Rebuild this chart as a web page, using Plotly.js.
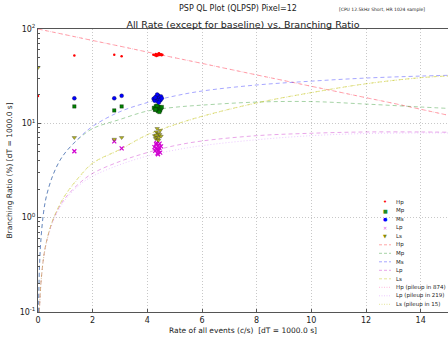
<!DOCTYPE html>
<html><head><meta charset="utf-8">
<script src="https://cdn.plot.ly/plotly-3.0.1.min.js"></script>
<style>html,body{margin:0;padding:0;background:#fff}#c{width:448px;height:338px}</style>
</head><body><div id="c"></div>
<script>
// ---- measured points ----
const hpX = [0, 1.33, 2.79, 3.06, 4.22, 4.28, 4.31, 4.35, 4.38, 4.40, 4.42, 4.45, 4.47, 4.50, 4.52, 4.55, 4.33, 4.43];
const hpY = [19.5, 52.5, 53.4, 51.5, 53.5, 52.8, 54.2, 53.1, 52.4, 54.6, 53.7, 52.9, 53.3, 54.1, 52.6, 53.4, 51.8, 55.2];
const mpX = [1.33, 2.79, 3.06, 4.24, 4.28, 4.31, 4.35, 4.38, 4.40, 4.42, 4.45, 4.47, 4.50, 4.53, 4.36, 4.44, 4.30];
const mpY = [15.1, 13.7, 15.1, 14.6, 13.9, 15.2, 14.3, 13.5, 15.0, 14.1, 14.8, 13.7, 14.4, 14.9, 15.4, 13.2, 14.0];
const msX = [1.33, 2.79, 3.06, 4.23, 4.27, 4.31, 4.34, 4.38, 4.40, 4.43, 4.45, 4.48, 4.50, 4.53, 4.36, 4.42, 4.29];
const msY = [18.4, 18.4, 19.6, 18.2, 17.4, 19.0, 18.6, 17.1, 19.7, 18.0, 18.9, 17.6, 19.3, 18.4, 20.2, 16.6, 18.8];
const lpX = [1.33, 2.79, 3.06, 4.26, 4.29, 4.32, 4.35, 4.37, 4.40, 4.42, 4.44, 4.47, 4.50, 4.34, 4.39, 4.45, 4.31];
const lpY = [5.06, 6.45, 5.43, 5.6, 5.1, 6.0, 5.3, 4.8, 5.8, 5.2, 5.5, 4.9, 5.7, 6.2, 4.7, 6.1, 5.4];
const lsX = [0, 1.33, 2.79, 3.06, 4.27, 4.30, 4.33, 4.35, 4.38, 4.40, 4.42, 4.45, 4.47, 4.50, 4.36, 4.41, 4.32];
const lsY = [39, 7.06, 6.78, 7.06, 7.4, 6.9, 8.1, 7.2, 6.7, 7.8, 7.1, 7.6, 8.4, 7.3, 8.8, 6.6, 7.5];

// ---- model curves ----
const hpCurveX = [0, 1, 2, 3, 4, 5, 6, 7, 8, 9, 10, 11, 12, 13, 14, 15];
const hpCurveY = [100, 87, 75.5, 65.7, 57, 49.6, 43.2, 37.5, 32.6, 28.4, 24.7, 21.5, 18.7, 16.3, 14.1, 12.2];
const msCurveX = [0.02, 0.05, 0.1, 0.2, 0.3, 0.5, 0.75, 1, 1.5, 2, 3, 4, 5, 6, 8, 10, 12, 14, 15];
const msCurveY = [0.1, 0.28, 0.55, 1.12, 1.65, 2.6, 3.8, 4.9, 7.0, 9.3, 13.3, 16.6, 19.5, 22, 25.5, 28, 30.2, 31.7, 32.3];
const mpCurveY = [0.1, 0.28, 0.55, 1.12, 1.65, 2.6, 3.8, 4.9, 6.9, 8.8, 11.0, 13.5, 14.8, 15.6, 16.8, 17.0, 16.0, 14.9, 14.4];
const lCurveX = [0.05, 0.1, 0.2, 0.3, 0.5, 0.75, 1, 1.5, 2, 3, 4, 5, 6, 8, 10, 12, 14, 15];
const lsCurveY = [0.1, 0.19, 0.37, 0.54, 0.88, 1.3, 1.75, 2.7, 3.8, 5.3, 7.6, 9.7, 11.9, 16.5, 21.2, 26.3, 30.5, 31.8];
const lpCurveY = [0.1, 0.19, 0.37, 0.54, 0.86, 1.25, 1.62, 2.3, 2.95, 3.95, 4.9, 5.8, 6.5, 7.4, 7.85, 8.1, 8.1, 8.05];
const lpPileY = [0.1, 0.19, 0.36, 0.52, 0.83, 1.2, 1.55, 2.2, 2.75, 3.65, 4.5, 5.2, 5.8, 6.7, 7.4, 7.8, 7.9, 7.9];
const lsPileY = [0.1, 0.19, 0.37, 0.54, 0.87, 1.28, 1.72, 2.65, 3.75, 5.25, 7.5, 9.6, 11.8, 16.4, 21.1, 26.2, 30.4, 31.7];

const legendLabels = ['Hp', 'Mp', 'Ms', 'Lp', 'Ls', 'Hp', 'Mp', 'Ms', 'Lp', 'Ls',
  'Hp (pileup in 874)', 'Lp (pileup in 219)', 'Ls (pileup in 15)'];

const F = 'DejaVu Sans, sans-serif';
function pts(x, y, sym, col, size, edgeW) {
  return {x, y, type: 'scatter', mode: 'markers', showlegend: false, cliponaxis: true,
    marker: {symbol: sym, color: col, size: size, line: {color: '#111', width: edgeW}}};
}
function crv(x, y, col, dash, w) {
  return {x, y, type: 'scatter', mode: 'lines', showlegend: false,
    line: {color: col, dash: dash, width: w || 1, shape: 'spline'}};
}
const cHp = 'rgba(255,0,0,0.35)', cMp = 'rgba(0,128,0,0.35)', cMs = 'rgba(0,0,255,0.35)',
      cLp = 'rgba(191,0,191,0.35)', cLs = 'rgba(191,191,0,0.4)',
      cHpP = 'rgba(255,105,180,0.45)', cLpP = 'rgba(200,100,255,0.35)', cLsP = 'rgba(191,191,0,0.4)';

const traces = [
  crv(hpCurveX, hpCurveY, cHp, '4px,3px'),
  crv(hpCurveX, hpCurveY, cHpP, '1px,3px'),
  crv(msCurveX, mpCurveY, cMp, '4px,3px'),
  crv(msCurveX, msCurveY, cMs, '4px,3px'),
  crv(lCurveX, lpCurveY, cLp, '4px,3px'),
  crv(lCurveX, lsCurveY, cLs, '4px,3px'),
  crv(lCurveX, lpPileY, cLpP, '1px,2px'),
  crv(lCurveX, lsPileY, cLsP, '1px,2px'),
  pts(hpX, hpY, 'circle', '#ff0000', 2.5, 0),
  pts(mpX, mpY, 'square', '#008000', 3.5, 0.3),
  pts(msX, msY, 'circle', '#0000ff', 4, 0.3),
  pts(lpX, lpY, 'x-thin', '#d000d0', 4, 1.2),
  pts(lsX, lsY, 'triangle-down', '#b5b520', 4, 0.3)
];
traces[11].marker.line.color = '#d000d0';

// plot box in pixels
const L = 38, R = 448, T = 29, B = 312;
const px = v => (v - L) / (R - L), py = v => (B - v) / (B - T);

const shapes = [], annotations = [];
const legY0 = 202.3, legStep = 8.5;
const mSym = ['•', '■', '●', '✕', '▼'];
const mCol = ['#ff0000', '#228b22', '#0000ff', '#e060e0', '#8a8a00'];
const lCol = [cHp, cMp, cMs, cLp, cLs, cHpP, cLpP, cLsP];
const lDash = ['3px,2px', '3px,2px', '3px,2px', '3px,2px', '3px,2px', '1px,1.5px', '1px,1.5px', '1px,1.5px'];
legendLabels.forEach((lab, i) => {
  const yy = legY0 + i * legStep;
  if (i < 5) {
    annotations.push({xref: 'paper', yref: 'paper', x: px(385), y: py(yy), text: mSym[i],
      showarrow: false, xanchor: 'center', yanchor: 'middle', font: {family: F, size: i === 0 ? 7 : 5, color: mCol[i]}});
  } else {
    shapes.push({type: 'line', xref: 'paper', yref: 'paper', x0: px(379), x1: px(391), y0: py(yy), y1: py(yy),
      line: {color: lCol[i - 5], width: 1, dash: lDash[i - 5]}});
  }
  annotations.push({xref: 'paper', yref: 'paper', x: px(394), y: py(yy), text: lab, showarrow: false,
    xanchor: 'left', yanchor: 'middle', font: {family: F, size: 5.5, color: '#222'}});
});
annotations.push({xref: 'paper', yref: 'paper', x: px(238), y: py(9), text: 'PSP QL Plot (QLPSP) Pixel=12',
  showarrow: false, xanchor: 'center', yanchor: 'middle', font: {family: F, size: 8, color: '#222'}});
annotations.push({xref: 'paper', yref: 'paper', x: px(382), y: py(10), text: '[CPU 12.5kHz Short, HR 1024 sample]',
  showarrow: false, xanchor: 'center', yanchor: 'middle', font: {family: F, size: 4.5, color: '#222'}});

const grid = {showgrid: true, gridcolor: '#c8c8c8', griddash: '1px,2px', gridwidth: 1, zeroline: false};
const layout = {
  width: 448, height: 338,
  margin: {l: L, r: 448 - R, t: T, b: 338 - B, pad: 0},
  paper_bgcolor: '#fff', plot_bgcolor: '#fff',
  font: {family: F, size: 8, color: '#222'},
  showlegend: false,
  title: {text: 'All Rate (except for baseline) vs. Branching Ratio', x: 0.5, xref: 'paper',
    y: 1, yref: 'paper', yanchor: 'bottom', pad: {b: 1}, font: {family: F, size: 9.5, color: '#222'}},
  xaxis: Object.assign({range: [0, 15], tickvals: [0, 2, 4, 6, 8, 10, 12, 14], ticks: 'inside', ticklen: 3,
    tickcolor: '#555', showline: true, linecolor: '#555', linewidth: 1, mirror: true,
    tickfont: {family: F, size: 8, color: '#222'},
    title: {text: 'Rate of all events (c/s)  [dT = 1000.0 s]', standoff: 4, font: {family: F, size: 7.5, color: '#222'}}}, grid),
  yaxis: Object.assign({type: 'log', range: [-1, 2], tickvals: [0.1, 1, 10, 100],
    ticktext: ['10<sup>-1</sup>', '10<sup>0</sup>', '10<sup>1</sup>', '10<sup>2</sup>'],
    ticks: 'inside', ticklen: 3, tickcolor: '#555',
    minor: {tickvals: [0.2,0.3,0.4,0.5,0.6,0.7,0.8,0.9,2,3,4,5,6,7,8,9,20,30,40,50,60,70,80,90], ticks: 'inside', ticklen: 2, tickcolor: '#555', showgrid: false},
    showline: true, linecolor: '#555', linewidth: 1, mirror: true,
    tickfont: {family: F, size: 8, color: '#222'},
    title: {text: 'Branching Ratio (%) [dT = 1000.0 s]', standoff: 6, font: {family: F, size: 7.5, color: '#222'}}}, grid),
  shapes, annotations
};
Plotly.newPlot('c', traces, layout, {displayModeBar: false, staticPlot: true});
</script></body></html>
